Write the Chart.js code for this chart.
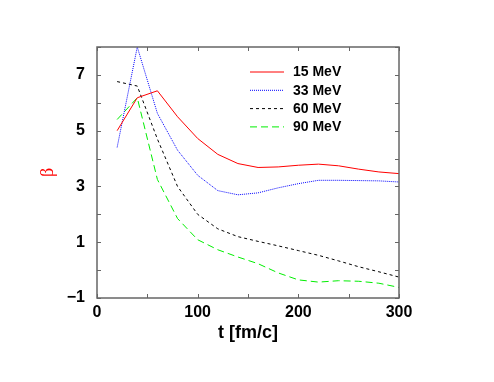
<!DOCTYPE html>
<html>
<head>
<meta charset="utf-8">
<script src="https://cdn.jsdelivr.net/npm/chart.js@4/dist/chart.umd.min.js"></script>
<style>
html,body{margin:0;padding:0;background:#fff;}
#wrap{width:494px;height:382px;}
</style>
</head>
<body>
<div id="wrap"><canvas id="c" width="494" height="382"></canvas></div>
<script>
const times = [20,40,60,80,100,120,140,160,180,200,220,240,260,280,300];
const mev15 = [5.0,6.18,6.43,5.5,4.72,4.15,3.82,3.68,3.70,3.76,3.80,3.74,3.62,3.52,3.46];
const mev33 = [4.4,8.0,5.62,4.3,3.4,2.85,2.7,2.77,2.95,3.1,3.22,3.22,3.21,3.2,3.16];
const mev60 = [6.76,6.6,4.7,3.0,2.0,1.48,1.2,1.03,0.87,0.7,0.53,0.33,0.12,-0.06,-0.25];
const mev90 = [5.4,6.18,3.25,1.85,1.09,0.73,0.47,0.23,-0.1,-0.35,-0.43,-0.38,-0.4,-0.47,-0.62];
const seriesLabels = ['15 MeV','33 MeV','60 MeV','90 MeV'];
const xTickLabels = ['0','100','200','300'];
const yTickLabels = ['\u22121','1','3','5','7'];

const toPts = arr => arr.map((v,i)=>({x:times[i], y:v}));
const styles = [
  {c:'#ff0000', d:[]},
  {c:'#0000ff', d:[1,1]},
  {c:'#000000', d:[3,3]},
  {c:'#00ee00', d:[7,4]}
];
const datasets = [mev15,mev33,mev60,mev90].map((arr,i)=>({
  label: seriesLabels[i],
  data: toPts(arr),
  borderColor: styles[i].c,
  borderDash: styles[i].d,
  borderWidth: 1,
  pointRadius: 0,
  tension: 0,
  fill: false
}));

const framePlugin = {
  id:'frame',
  afterDraw(chart){
    const ctx = chart.ctx, a = chart.chartArea;
    const xs = chart.scales.x, ys = chart.scales.y;
    ctx.save();
    ctx.strokeStyle = '#666';
    ctx.lineWidth = 1;
    ctx.setLineDash([]);
    const tl = 4;
    xs.ticks.forEach(t=>{
      const px = Math.round(xs.getPixelForValue(t.value))+0.5;
      ctx.beginPath();
      ctx.moveTo(px,a.bottom); ctx.lineTo(px,a.bottom-tl);
      ctx.moveTo(px,a.top); ctx.lineTo(px,a.top+tl);
      ctx.stroke();
    });
    ys.ticks.forEach(t=>{
      const py = Math.round(ys.getPixelForValue(t.value))+0.5;
      ctx.beginPath();
      ctx.moveTo(a.left,py); ctx.lineTo(a.left+tl,py);
      ctx.moveTo(a.right,py); ctx.lineTo(a.right-tl,py);
      ctx.stroke();
    });
    ctx.lineWidth = 1.5;
    ctx.strokeRect(a.left, a.top, a.right-a.left, a.bottom-a.top);
    // legend
    ctx.font = 'bold 14px "Liberation Sans", Arial, sans-serif';
    ctx.textBaseline = 'middle';
    ctx.textAlign = 'left';
    chart.data.datasets.forEach((ds,i)=>{
      const y = a.top + 25 + i*18.3;
      ctx.beginPath();
      ctx.strokeStyle = ds.borderColor;
      ctx.lineWidth = 1;
      ctx.setLineDash(ds.borderDash);
      ctx.moveTo(a.left+153, y); ctx.lineTo(a.left+187, y);
      ctx.stroke();
      ctx.setLineDash([]);
      ctx.fillStyle = '#000';
      ctx.fillText(ds.label, a.left+196, y+0.5);
    });
    ctx.restore();
  }
};

new Chart(document.getElementById('c'), {
  type:'line',
  data:{datasets},
  plugins:[framePlugin],
  options:{
    responsive:false,
    animation:false,
    layout:{padding:{left:37, top:47, right:95, bottom:38}},
    plugins:{legend:{display:false}, tooltip:{enabled:false}},
    scales:{
      x:{
        type:'linear', min:0, max:300,
        afterFit(s){ s.height = 46; },
        grid:{display:false, drawTicks:false},
        border:{display:false},
        ticks:{
          stepSize:50, padding:5, color:'#000', maxRotation:0, autoSkip:false,
          font:{family:'"Liberation Sans", Arial, sans-serif', size:16, weight:'bold'},
          callback(v){ return v % 100 === 0 ? xTickLabels[v/100] : ''; }
        },
        title:{display:true, text:'t [fm/c]', color:'#000', padding:0,
          font:{family:'"Liberation Sans", Arial, sans-serif', size:18, weight:'bold'}}
      },
      y:{
        type:'linear', min:-1, max:8,
        afterFit(s){ s.width = 60; },
        grid:{display:false, drawTicks:false},
        border:{display:false},
        ticks:{
          stepSize:1, padding:12, color:'#000', autoSkip:false,
          font:{family:'"Liberation Sans", Arial, sans-serif', size:16, weight:'bold'},
          callback(v){ return (Math.abs(v % 2) === 1) ? yTickLabels[(v+1)/2] : ''; }
        },
        title:{display:true, text:'\u03b2', color:'#ff0000', padding:0,
          font:{family:'"Liberation Serif", serif', size:18}}
      }
    }
  }
});
</script>
</body>
</html>
